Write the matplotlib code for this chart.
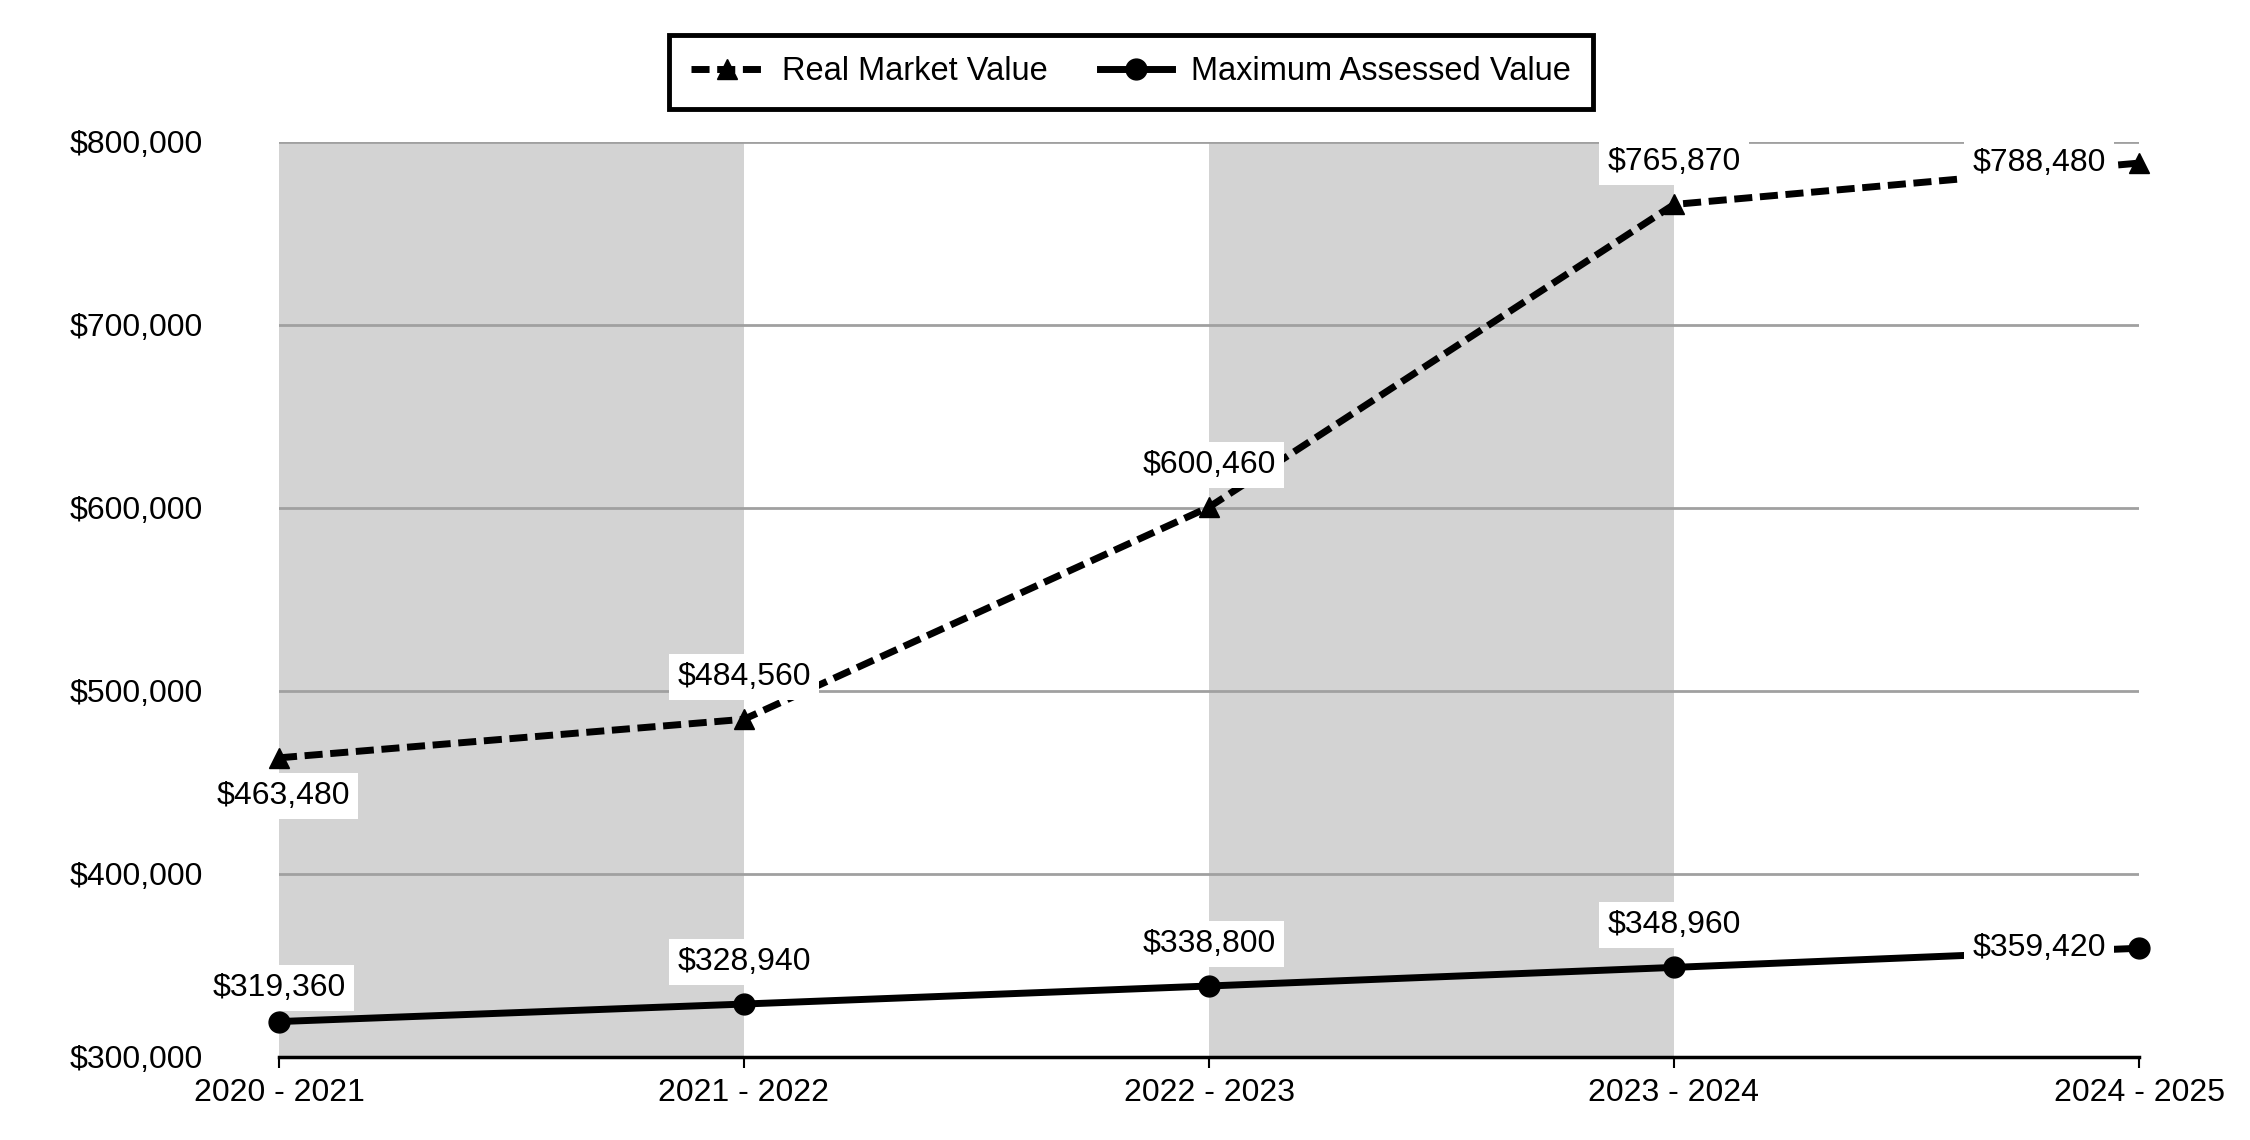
import matplotlib

matplotlib.use("Agg")
import matplotlib.pyplot as plt
from matplotlib.ticker import FuncFormatter

plt.rcParams["font.family"] = ["Liberation Sans", "DejaVu Sans"]

# data
years = ["2020 - 2021", "2021 - 2022", "2022 - 2023", "2023 - 2024", "2024 - 2025"]
real_market = [463480, 484560, 600460, 765870, 788480]
max_assessed = [319360, 328940, 338800, 348960, 359420]
shaded = [(0, 1), (2, 3)]

# label offsets (pixels) for each point
rmv_offsets = [(4, -38), (0, 42), (0, 42), (0, 42), (-100, 0)]
mav_offsets = [(0, 34), (0, 42), (0, 42), (0, 42), (-100, 0)]

FS = 23

fig = plt.figure(figsize=(22.5, 11.4), dpi=100)
L, R, T, B = 279, 2139, 142, 1057
ax = fig.add_axes([L / 2250, 1 - B / 1140, (R - L) / 2250, (B - T) / 1140])

x = list(range(len(years)))

for a, b in shaded:
    ax.axvspan(a, b, color="#d3d3d3", lw=0, zorder=0)

for v in [400000, 500000, 600000, 700000, 800000]:
    ax.axhline(v, color="#a0a0a0", lw=2, zorder=1)

ax.plot(x, real_market, color="black", lw=5, dashes=(2.6, 1.1), marker="^",
        markersize=14, label="Real Market Value", zorder=3, clip_on=False)
ax.plot(x, max_assessed, color="black", lw=5, marker="o",
        markersize=15, label="Maximum Assessed Value", zorder=3, clip_on=False)

bbox = dict(boxstyle="square,pad=0.25", fc="white", ec="none")
for xi, v, off in zip(x, real_market, rmv_offsets):
    ax.annotate(f"${v:,}", (xi, v), xytext=off, textcoords="offset pixels",
                ha="center", va="center", fontsize=FS, bbox=bbox, zorder=4)
for xi, v, off in zip(x, max_assessed, mav_offsets):
    ax.annotate(f"${v:,}", (xi, v), xytext=off, textcoords="offset pixels",
                ha="center", va="center", fontsize=FS, bbox=bbox, zorder=4)

ax.set_xlim(0, len(years) - 1)
ax.set_ylim(300000, 800000)
ax.set_xticks(x)
ax.set_xticklabels(years, fontsize=FS)
ax.set_yticks([300000, 400000, 500000, 600000, 700000, 800000])
ax.yaxis.set_major_formatter(FuncFormatter(lambda v, _p: f"${int(v):,}"))
ax.tick_params(axis="y", length=0, pad=55, labelsize=FS)
ax.tick_params(axis="x", length=8, width=1.5, pad=7, labelsize=FS)

for s in ["top", "right", "left"]:
    ax.spines[s].set_visible(False)
ax.spines["bottom"].set_linewidth(2.5)
ax.spines["bottom"].set_zorder(5)

leg = fig.legend(loc="center", bbox_to_anchor=(1131 / 2250, 1 - 72 / 1140), ncol=2,
                 fontsize=23.5, frameon=True, fancybox=False, framealpha=1,
                 handlelength=2.2, columnspacing=1.6, borderpad=0.65,
                 handletextpad=0.6)
leg.get_frame().set_edgecolor("black")
leg.get_frame().set_linewidth(3.5)

fig.savefig("out.png", dpi=100)
